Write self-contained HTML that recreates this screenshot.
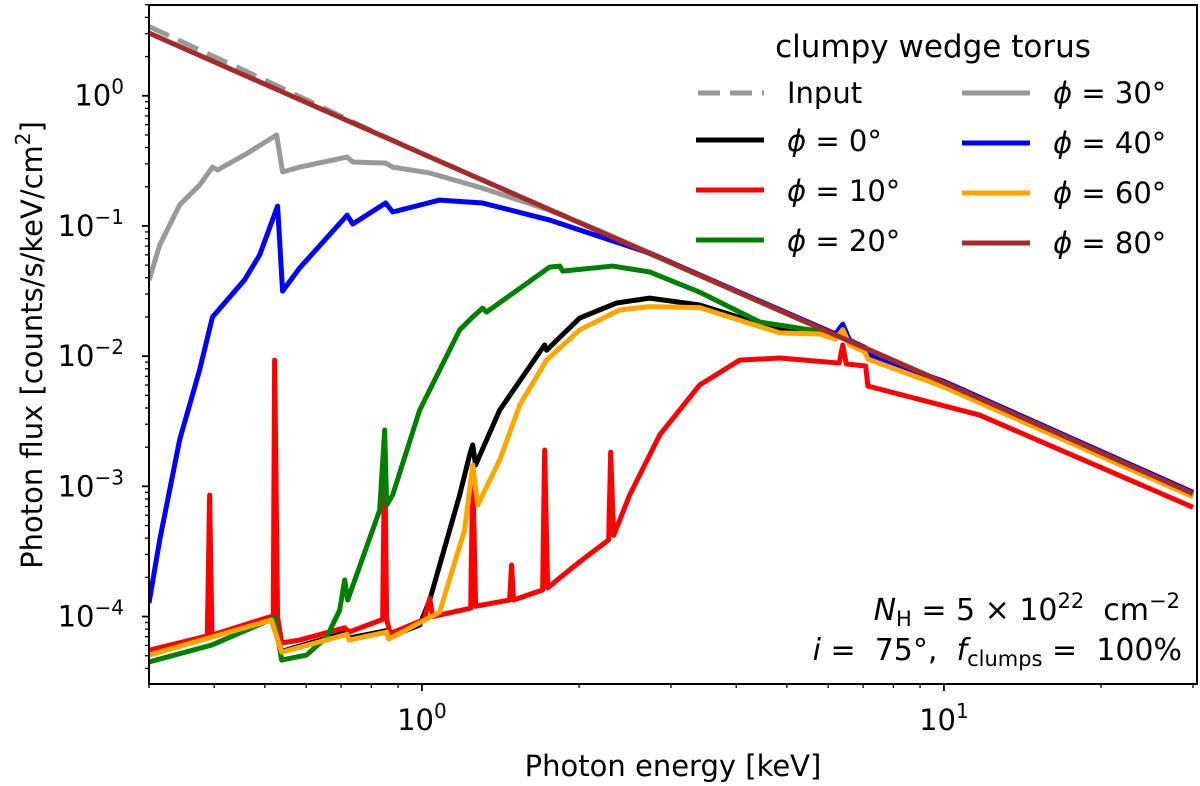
<!DOCTYPE html>
<html><head><meta charset="utf-8"><style>
html,body{margin:0;padding:0;background:#fff;}
svg{display:block;font-family:"DejaVu Sans","Liberation Sans",sans-serif;}
text{white-space:pre;}
</style></head><body>
<svg id="chart" width="1200" height="786" viewBox="0 0 1200 786" xmlns="http://www.w3.org/2000/svg">
<defs><clipPath id="plotclip"><rect x="149" y="5" width="1048" height="679"/></clipPath></defs>
<rect x="0" y="0" width="1200" height="786" fill="#fff"/>
<g id="series" clip-path="url(#plotclip)"></g>
<g id="axes"></g>
<g id="legend" font-size="29">
  <text x="933" y="57" text-anchor="middle" font-size="31">clumpy wedge torus</text>
  <line x1="698" y1="93" x2="764" y2="93" stroke="#999" stroke-width="5" stroke-dasharray="22,10"/>
  <text x="787" y="103">Input</text>
  <line x1="696" y1="140" x2="764" y2="140" stroke="#000" stroke-width="5"/>
  <text x="787" y="151"><tspan font-style="italic">ϕ</tspan> = 0°</text>
  <line x1="696" y1="190" x2="764" y2="190" stroke="#ff0000" stroke-width="5"/>
  <text x="787" y="201"><tspan font-style="italic">ϕ</tspan> = 10°</text>
  <line x1="696" y1="240" x2="764" y2="240" stroke="#008000" stroke-width="5"/>
  <text x="787" y="251"><tspan font-style="italic">ϕ</tspan> = 20°</text>
  <line x1="962" y1="93" x2="1030" y2="93" stroke="#999" stroke-width="5"/>
  <text x="1053" y="103"><tspan font-style="italic">ϕ</tspan> = 30°</text>
  <line x1="962" y1="143" x2="1030" y2="143" stroke="#0000ff" stroke-width="5"/>
  <text x="1053" y="153"><tspan font-style="italic">ϕ</tspan> = 40°</text>
  <line x1="962" y1="193" x2="1030" y2="193" stroke="#ffa500" stroke-width="5"/>
  <text x="1053" y="203"><tspan font-style="italic">ϕ</tspan> = 60°</text>
  <line x1="962" y1="243" x2="1030" y2="243" stroke="#a52a2a" stroke-width="5"/>
  <text x="1053" y="253"><tspan font-style="italic">ϕ</tspan> = 80°</text>
</g>
<g font-size="30">
  <text x="1180" y="620" text-anchor="end"><tspan font-style="italic">N</tspan><tspan font-size="21" dy="6">H</tspan><tspan dy="-6"> = 5 × 10</tspan><tspan font-size="21" dy="-12">22</tspan><tspan dy="12">  cm</tspan><tspan font-size="21" dy="-12">−2</tspan></text>
  <text x="1182" y="660" text-anchor="end"><tspan font-style="italic">i</tspan> =  75°,  <tspan font-style="italic">f</tspan><tspan font-size="21" dy="6">clumps</tspan><tspan dy="-6"> =  100%</tspan></text>
</g>
<text x="673" y="776" text-anchor="middle" font-size="29">Photon energy [keV]</text>
<text transform="translate(42,345) rotate(-90)" text-anchor="middle" font-size="29">Photon flux [counts/s/keV/cm<tspan font-size="20" dy="-12">2</tspan><tspan dy="12">]</tspan></text>
</svg>
<script>
// ---- data ----
const seriesNames = ["input","phi0","phi10","phi20","phi30","phi40","phi60","phi80"];
const inputE = [0.3,0.5,0.8,1,10,30];
const inputF = [3.4,1.32,0.54,0.36,0.00626,0.00088];
const phi80E = [0.3,1,10,30];
const phi80F = [3.03,0.36,0.00626,0.00088];
const phi30E = [0.3,0.3145,0.3434,0.375,0.397,0.406,0.457,0.5267,0.5408,0.583,0.719,0.737,0.852,0.879,1.035,1.307,1.756,2.19,10,30];
const phi30F = [0.0382,0.0713,0.145,0.206,0.283,0.269,0.351,0.499,0.26,0.283,0.338,0.31,0.304,0.283,0.255,0.195,0.132,0.092,0.00626,0.00088];
const phi40E = [0.3,0.3145,0.3434,0.375,0.397,0.457,0.4887,0.529,0.5408,0.583,0.719,0.737,0.852,0.879,1.081,1.307,1.756,2.73,6.2,6.4,6.6,7.05,7.15,10,30];
const phi40F = [1.27e-4,3.87e-4,2.27e-3,7.82e-3,0.02,0.0384,0.0597,0.142,0.0316,0.0475,0.121,0.1035,0.15,0.128,0.158,0.15,0.111,0.0618,0.0148,0.0176,0.0132,0.0117,0.0103,0.0064,0.0009];
const phi20E = [0.3,0.3955,0.5221,0.5385,0.601,0.657,0.6956,0.7113,0.7208,0.83,0.8483,0.8558,0.8787,0.99,1.181,1.251,1.307,1.33,1.756,1.836,1.86,2.319,2.73,3.404,4.436,5.78,6.2,6.4,6.6,7.05,7.15,10,30];
const phi20F = [4.48e-5,6.04e-5,9.75e-5,4.63e-5,5.06e-5,6.96e-5,1.12e-4,1.91e-4,1.34e-4,6.57e-4,2.71e-3,7.18e-4,8.57e-4,3.85e-3,0.0159,0.02,0.0234,0.0218,0.0483,0.0492,0.045,0.0492,0.0443,0.031,0.0183,0.0155,0.0144,0.0172,0.013,0.0115,0.0101,0.0063,0.00088];
const phi0E = [0.3,0.515,0.5385,0.719,0.725,0.8558,0.8634,0.99,1.035,1.181,1.234,1.251,1.267,1.409,1.718,1.733,2.005,2.36,2.73,3.404,4.845,5.78,6.2,6.4,6.6,7.05,7.15,10,30];
const phi0F = [5.2e-5,9.4e-5,5.4e-5,7.6e-5,6.84e-5,7.8e-5,6.96e-5,8.61e-5,1.34e-4,8.57e-4,1.74e-3,2.08e-3,1.46e-3,3.85e-3,0.0122,0.0111,0.0196,0.0256,0.0279,0.0247,0.0159,0.0158,0.0143,0.0171,0.0129,0.0114,0.01,0.0062,0.00087];
const phi60E = [0.3,0.515,0.5385,0.719,0.725,0.8558,0.8634,1.081,1.207,1.251,1.279,1.409,1.539,1.733,2.005,2.391,2.73,3.404,4.845,5.78,6.2,6.4,6.6,7.05,7.15,10,30];
const phi60F = [5.06e-5,9.4e-5,5.33e-5,7.3e-5,6.6e-5,7.6e-5,6.7e-5,1.08e-4,4.62e-4,1.46e-3,7.18e-4,1.59e-3,4.2e-3,9.33e-3,0.0159,0.0226,0.024,0.0236,0.0151,0.0148,0.0135,0.016,0.0122,0.0108,0.0095,0.0058,0.00083];
const phi10E = [0.3,0.388,0.392,0.396,0.5106,0.519,0.5221,0.529,0.5385,0.583,0.7113,0.725,0.8408,0.8483,0.8558,0.87,1.01,1.035,1.048,1.24,1.251,1.267,1.472,1.485,1.498,1.703,1.718,1.741,1.836,2.005,2.279,2.299,2.329,2.5,2.854,3.404,4.061,4.845,6.3,6.4,6.5,7.08,7.15,11.7,30];
const phi10F = [5.5e-5,7.1e-5,8.57e-4,7.2e-5,9.93e-5,1.0e-4,9.33e-3,1.0e-4,6.27e-5,6.6e-5,8.2e-5,7.6e-5,9.5e-5,2.08e-3,9.5e-5,7.4e-5,9.5e-5,1.38e-4,1.0e-4,1.16e-4,1.33e-3,1.2e-4,1.34e-4,2.49e-4,1.34e-4,1.6e-4,1.9e-3,1.66e-4,1.98e-4,2.63e-4,3.88e-4,1.83e-3,4.2e-4,8.57e-4,2.48e-3,6.0e-3,9.33e-3,9.67e-3,8.85e-3,0.0122,8.7e-3,8.4e-3,5.89e-3,3.53e-3,6.9e-4];
const xMajorTicks = [1,10];
const xMajorLabels = ["0","1"];
const yMajorTicks = [1e-4,1e-3,1e-2,1e-1,1];
const yMajorLabels = ["−4","−3","−2","−1","0"];

// ---- axis functions ----
const PL=149, PR=1197, PT=5, PB=684;
const LXMIN=Math.log10(0.3), XDEC=522;
const LYMAX=0.697, YDEC=130.2;
function xs(E){return PL+(Math.log10(E)-LXMIN)*XDEC;}
function ys(F){return PT+(LYMAX-Math.log10(F))*YDEC;}
const NS="http://www.w3.org/2000/svg";
function mk(tag,attrs,parent){const e=document.createElementNS(NS,tag);for(const k in attrs)e.setAttribute(k,attrs[k]);parent.appendChild(e);return e;}

const sg=document.getElementById('series');
function drawSeries(E,F,color,name,dash){
  let d="";
  for(let i=0;i<E.length;i++){d+=(i?"L":"M")+xs(E[i]).toFixed(2)+","+ys(F[i]).toFixed(2);}
  const p=mk('path',{d:d,fill:"none",stroke:color,"stroke-width":"5","stroke-linejoin":"round","stroke-linecap":"butt"},sg);
  if(dash)p.setAttribute('stroke-dasharray',dash);
  
  
}
drawSeries(inputE,inputF,"#999","series-input","22,10");
drawSeries(phi0E,phi0F,"#000000","series-phi0");
drawSeries(phi10E,phi10F,"#ff0000","series-phi10");
drawSeries(phi20E,phi20F,"#008000","series-phi20");
drawSeries(phi30E,phi30F,"#999999","series-phi30");
drawSeries(phi40E,phi40F,"#0000ff","series-phi40");
drawSeries(phi60E,phi60F,"#ffa500","series-phi60");
drawSeries(phi80E,phi80F,"#a52a2a","series-phi80");

// ---- axes ----
const ax=document.getElementById('axes');
const frame=mk('rect',{x:PL,y:PT,width:PR-PL,height:PB-PT,fill:"none",stroke:"#000","stroke-width":"2"},ax);


for(let dec=-1;dec<=1;dec++){
  for(let m=1;m<10;m++){
    const v=m*Math.pow(10,dec);
    if(v<0.3-1e-9||v>30.5)continue;
    const x=xs(v);
    const major=(m===1);
    const t=mk('line',{x1:x,y1:PB,x2:x,y2:PB+(major?7:4),stroke:"#000","stroke-width":major?"1.8":"1.3"},ax);
    
    
  }
}
xMajorTicks.forEach((v,i)=>{
  const x=xs(v);
  const t=mk('text',{x:x,y:730,"text-anchor":"middle","font-size":"29"},ax);
  
  
  const a=mk('tspan',{},t);a.textContent="10";
  const b=mk('tspan',{"font-size":"20",dy:"-12"},t);b.textContent=xMajorLabels[i];
});
for(let dec=-5;dec<=0;dec++){
  for(let m=1;m<10;m++){
    const v=m*Math.pow(10,dec);
    const y=ys(v);
    if(y<PT-0.5||y>PB+0.5)continue;
    const major=(m===1);
    const t=mk('line',{x1:PL-(major?7:4),y1:y,x2:PL,y2:y,stroke:"#000","stroke-width":major?"1.8":"1.3"},ax);
    
    
  }
}
yMajorTicks.forEach((v,i)=>{
  const y=ys(v);
  const t=mk('text',{x:124,y:y+10,"text-anchor":"end","font-size":"29"},ax);
  
  
  const a=mk('tspan',{},t);a.textContent="10";
  const b=mk('tspan',{"font-size":"20",dy:"-12"},t);b.textContent=yMajorLabels[i];
});
</script>
</body></html>
